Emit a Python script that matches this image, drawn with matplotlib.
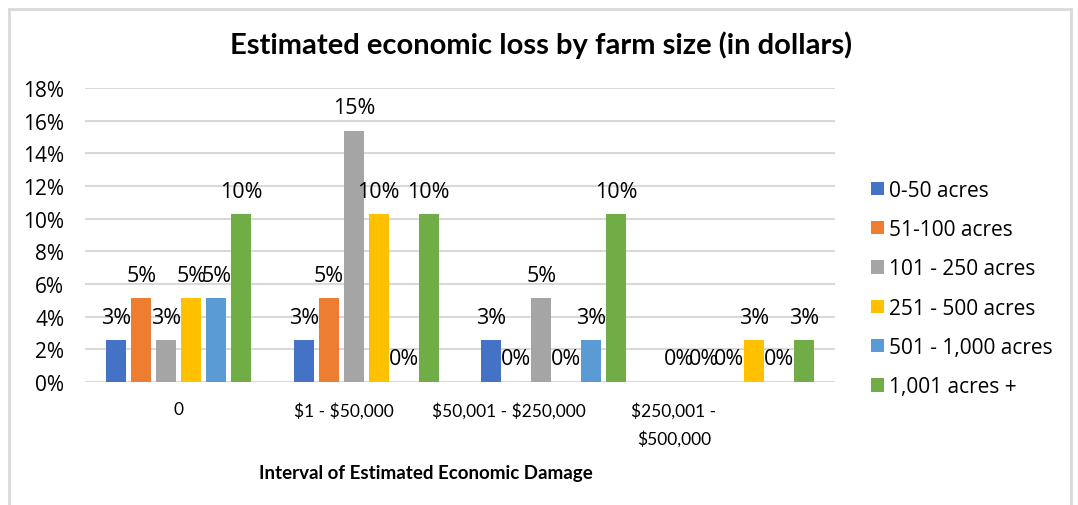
import matplotlib
matplotlib.use("Agg")
import matplotlib.pyplot as plt
from matplotlib.lines import Line2D
import numpy as np

plt.rcParams["text.parse_math"] = False

# categories along the x axis
categories = ["0", "$1 - $50,000", "$50,001 - $250,000", "$250,001 -\n$500,000"]

# farm size series (fraction of respondents)
farm_sizes = ["0-50 acres", "51-100 acres", "101 - 250 acres",
              "251 - 500 acres", "501 - 1,000 acres", "1,001 acres +"]
acres_0_50 = [0.0256, 0.0256, 0.0256, 0.0]
acres_51_100 = [0.0513, 0.0513, 0.0, 0.0]
acres_101_250 = [0.0256, 0.1538, 0.0513, 0.0]
acres_251_500 = [0.0513, 0.1026, 0.0, 0.0256]
acres_501_1000 = [0.0513, 0.0, 0.0256, 0.0]
acres_1001_plus = [0.1026, 0.1026, 0.1026, 0.0256]

colors = ["#4472C4", "#ED7D31", "#A5A5A5", "#FFC000", "#5B9BD5", "#70AD47"]

series = [acres_0_50, acres_51_100, acres_101_250,
          acres_251_500, acres_501_1000, acres_1001_plus]

fig = plt.figure(figsize=(10.78, 5.06), dpi=100)
ax = fig.add_axes([0.0789, 0.2431, 0.6957, 0.5810])

x = np.arange(len(categories))
step = 0.1333
width = 0.105

handles = []
for i, (vals, name, col) in enumerate(zip(series, farm_sizes, colors)):
    pos = x + (i - 2.5) * step
    bars = ax.bar(pos, vals, width, color=col, label=name, zorder=3)
    handles.append(bars)
    for rect, v in zip(bars, vals):
        ax.annotate(f"{v * 100:.0f}%",
                    xy=(rect.get_x() + rect.get_width() / 2, v),
                    xytext=(0, 9), textcoords="offset points",
                    ha="center", va="bottom", fontsize=15.5,
                    family="Open Sans", color="#000000")

ax.set_xlim(-0.5, 3.5)
ax.set_ylim(0, 0.18)
ax.set_yticks(np.arange(0, 0.181, 0.02))
ax.set_yticklabels([f"{int(round(t * 100))}%" for t in np.arange(0, 0.181, 0.02)],
                   family="Open Sans", fontsize=15)
ax.tick_params(axis="y", length=0, pad=15)

# category labels sit slightly left of their clusters in the original
ax.set_xticks(x * 0.88)
ax.set_xticklabels(categories, family="Lato", fontsize=12.5, linespacing=1.8)
ax.tick_params(axis="x", length=0, pad=14)

ax.grid(axis="y", color="#d9d9d9", linewidth=1.5, zorder=0)
for s in ax.spines.values():
    s.set_visible(False)

fig.text(541 / 1078, 1 - 45 / 506, "Estimated economic loss by farm size (in dollars)",
         ha="center", va="center", fontsize=21, fontweight="bold", family="Lato")
fig.text(426 / 1078, 1 - 473 / 506, "Interval of Estimated Economic Damage",
         ha="center", va="center", fontsize=13.5, fontweight="bold", family="Lato")

leg = fig.legend(handles=handles, labels=farm_sizes, loc="center left",
                 bbox_to_anchor=(0.7985, 0.428), frameon=False,
                 prop={"family": "Open Sans", "size": 15},
                 handlelength=0.6, handleheight=0.6, handletextpad=0.25,
                 labelspacing=0.88, borderpad=0)

# light chart border (left, top, right)
bc = "#d9d9d9"
fig.add_artist(Line2D([9 / 1078, 9 / 1078], [0, 1 - 10 / 506], color=bc, lw=2))
fig.add_artist(Line2D([9 / 1078, 1071 / 1078], [1 - 10 / 506, 1 - 10 / 506], color=bc, lw=2))
fig.add_artist(Line2D([1071 / 1078, 1071 / 1078], [0, 1 - 10 / 506], color=bc, lw=2))

fig.savefig("out.png", dpi=100)
